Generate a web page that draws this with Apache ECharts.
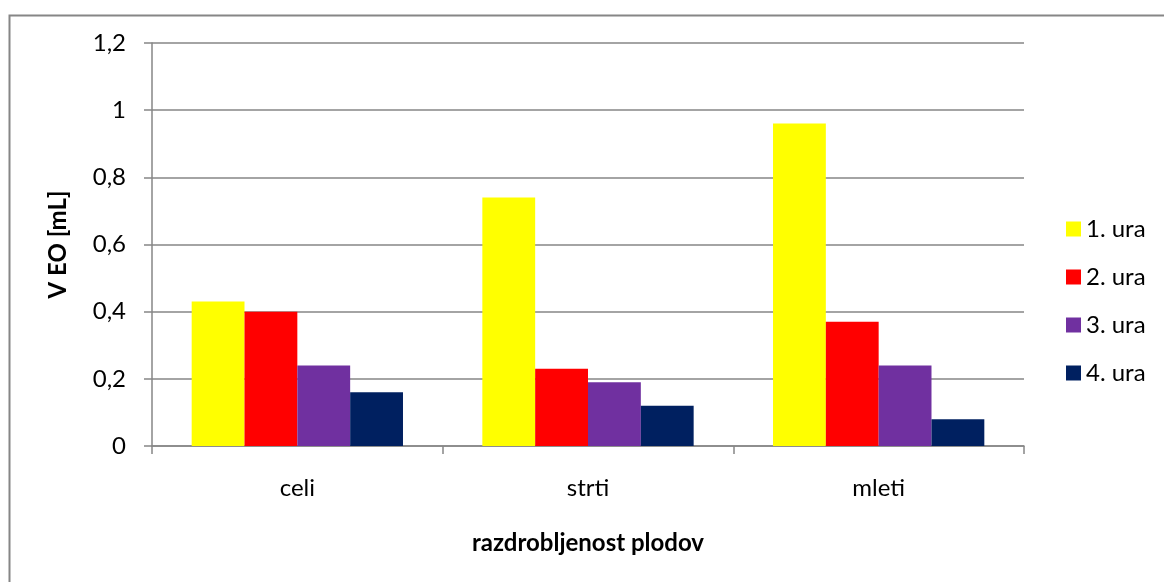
<!DOCTYPE html>
<html>
<head>
<meta charset="utf-8">
<script src="https://cdn.jsdelivr.net/npm/echarts@6/dist/echarts.min.js"></script>
<style>
  html, body { margin: 0; padding: 0; background: #ffffff; }
  #chart { width: 1164px; height: 582px; }
</style>
</head>
<body>
<div id="chart"></div>
<script>
// Volumen eteričnega olja glede na razdrobljenost plodov, po urah destilacije
const categories = ['celi', 'strti', 'mleti'];
const seriesNames = ['1. ura', '2. ura', '3. ura', '4. ura'];
const ura1 = [0.43, 0.74, 0.96];
const ura2 = [0.40, 0.23, 0.37];
const ura3 = [0.24, 0.19, 0.24];
const ura4 = [0.16, 0.12, 0.08];
const seriesValues = [ura1, ura2, ura3, ura4];
const colors = ['#FFFF00', '#FF0000', '#7030A0', '#002060'];

const FONT = 'Lato, "Open Sans", sans-serif';
const FS = 24;
const GRID_GRAY = '#868686';

const chart = echarts.init(document.getElementById('chart'), null, { renderer: 'canvas' });

chart.setOption({
  backgroundColor: '#ffffff',
  animation: false,
  textStyle: { fontFamily: FONT, color: '#000' },
  graphic: [{
    type: 'rect',
    left: 7,
    top: 13,
    shape: { width: 1200, height: 620 },
    style: { fill: 'none', stroke: GRID_GRAY, lineWidth: 2 },
    silent: true,
    z: -10
  }],
  grid: { left: 152, right: 140, top: 43, bottom: 136 },
  legend: {
    orient: 'vertical',
    left: 1061,
    top: 212,
    itemWidth: 15,
    itemHeight: 15,
    itemGap: 24,
    icon: 'rect',
    textStyle: { fontFamily: FONT, fontSize: FS, color: '#000' },
    data: seriesNames
  },
  xAxis: {
    type: 'category',
    data: categories,
    name: 'razdrobljenost plodov',
    nameLocation: 'middle',
    nameGap: 85,
    nameTextStyle: { fontFamily: FONT, fontSize: FS, fontWeight: 'bold', color: '#000' },
    axisLine: { lineStyle: { color: GRID_GRAY, width: 1.5 } },
    axisTick: { show: true, alignWithLabel: false, length: 8, lineStyle: { color: GRID_GRAY, width: 1.5 } },
    axisLabel: { fontFamily: FONT, fontSize: FS, color: '#000', margin: 30 }
  },
  yAxis: {
    type: 'value',
    min: 0,
    max: 1.2,
    interval: 0.2,
    name: 'V EO [mL]',
    nameLocation: 'middle',
    nameGap: 82,
    nameRotate: 90,
    nameTextStyle: { fontFamily: FONT, fontSize: FS, fontWeight: 'bold', color: '#000' },
    axisLine: { show: true, lineStyle: { color: GRID_GRAY, width: 1.5 } },
    axisTick: { show: true, length: 8, lineStyle: { color: GRID_GRAY, width: 1.5 } },
    splitLine: { show: true, lineStyle: { color: GRID_GRAY, width: 1.5 } },
    axisLabel: {
      fontFamily: FONT, fontSize: FS, color: '#000', margin: 26,
      formatter: v => (Math.round(v * 10) / 10).toString().replace('.', ',')
    }
  },
  series: seriesNames.map((name, i) => ({
    name,
    type: 'bar',
    data: seriesValues[i],
    barGap: '0%',
    barCategoryGap: '27.3%',
    itemStyle: { color: colors[i] }
  }))
});
</script>
</body>
</html>
